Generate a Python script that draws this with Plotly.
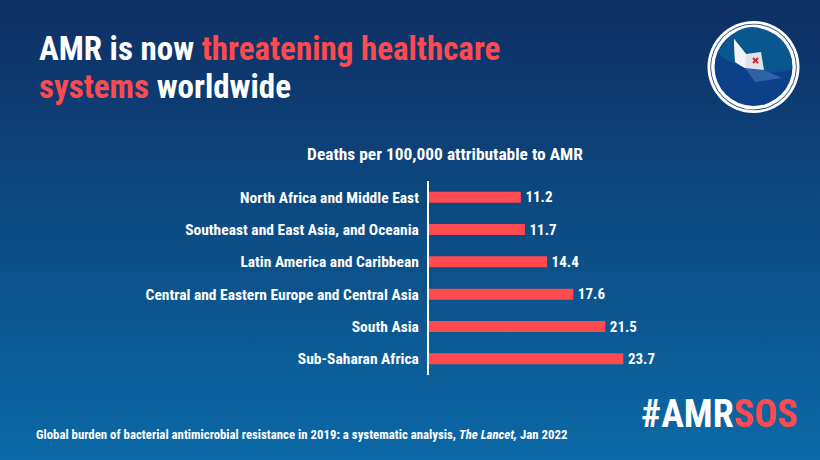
import plotly.graph_objects as go

regions = [
    "North Africa and Middle East",
    "Southeast and East Asia, and Oceania",
    "Latin America and Caribbean",
    "Central and Eastern Europe and Central Asia",
    "South Asia",
    "Sub-Saharan Africa",
]
deaths = [11.2, 11.7, 14.4, 17.6, 21.5, 23.7]

W, H = 820, 460
FONT = "Roboto"
RED = "#ff4b4f"


# shapes and annotations are placed in pixels of the 820x460 frame
def px(x):
    return x / W


def py(y):
    return 1 - y / H


def poly(points, color):
    path = "M " + " L ".join(f"{px(x)} {py(y)}" for x, y in points) + " Z"
    return dict(type="path", xref="paper", yref="paper", path=path,
                fillcolor=color, line_width=0, layer="above")


def circle(cx, cy, r, color):
    return dict(type="circle", xref="paper", yref="paper",
                x0=px(cx - r), x1=px(cx + r), y0=py(cy + r), y1=py(cy - r),
                fillcolor=color, line_width=0, layer="above")


def label(x, y, text, size, anchor="left"):
    return dict(x=px(x), y=py(y), xref="paper", yref="paper", text=text, showarrow=False,
                xanchor=anchor, yanchor="middle", align=anchor,
                font=dict(family=FONT, size=size, color="white", weight="bold"))


background = (
    "data:image/svg+xml;utf8,<svg xmlns='http://www.w3.org/2000/svg' width='820' height='460' "
    "preserveAspectRatio='none'><defs><linearGradient id='g' x1='0' y1='0' x2='0' y2='1'>"
    "<stop offset='0' stop-color='%230e2f63'/><stop offset='1' stop-color='%230b69a6'/>"
    "</linearGradient></defs><rect width='820' height='460' fill='url(%23g)'/></svg>"
)

fig = go.Figure(
    go.Bar(
        x=deaths,
        y=regions,
        orientation="h",
        width=0.34,
        marker=dict(color=RED, line_width=0),
        text=[f"{v:.1f}" for v in deaths],
        textposition="outside",
        cliponaxis=False,
        textfont=dict(family=FONT, size=15, color="white", weight="bold"),
    )
)

# logo
cx, cy = 753.5, 67
shapes = [
    circle(cx, cy, 46, "white"),
    circle(cx, cy, 43.2, "#123a78"),
    circle(cx, cy, 42.4, "white"),
    circle(cx, cy, 39, "#0b3f88"),
    dict(type="path", xref="paper", yref="paper", layer="above", line_width=0, fillcolor="#09578f",
         path=f"M {px(cx - 36)} {py(cy - 13)} Q {px(cx - 10)} {py(cy - 60)} {px(cx + 30)} {py(cy - 25)} "
              f"Q {px(cx + 42)} {py(cy - 8)} {px(cx + 37)} {py(cy + 3)} "
              f"Q {px(cx)} {py(cy + 12)} {px(cx - 36)} {py(cy - 13)} Z"),
    poly([(745, 68), (764, 70), (782, 78), (755, 82)], "#2f62a6"),
    poly([(734, 39), (746, 54), (761, 52), (764, 70), (745, 68), (735, 62)], "#dfe2e8"),
    poly([(734, 39), (746, 54), (745, 68), (735, 62)], "#f2f3f5"),
    dict(type="line", xref="paper", yref="paper", x0=px(753), y0=py(58), x1=px(758), y1=py(63),
         line=dict(color="#d8222c", width=2), layer="above"),
    dict(type="line", xref="paper", yref="paper", x0=px(758), y0=py(58), x1=px(753), y1=py(63),
         line=dict(color="#d8222c", width=2), layer="above"),
]

fig.update_layout(
    width=W,
    height=H,
    margin=dict(l=0, r=0, t=0, b=0),
    paper_bgcolor="#0c4c88",
    plot_bgcolor="rgba(0,0,0,0)",
    showlegend=False,
    images=[dict(source=background, xref="paper", yref="paper", x=0, y=1, sizex=1, sizey=1,
                 sizing="stretch", xanchor="left", yanchor="top", layer="below")],
    shapes=shapes,
    uniformtext=dict(minsize=15, mode="show"),
    xaxis=dict(domain=[px(429), px(675)], range=[0, 30], visible=False),
    yaxis=dict(
        domain=[py(375), py(181)],
        autorange="reversed",
        showgrid=False,
        showline=True,
        linecolor="white",
        linewidth=2,
        ticks="outside",
        ticklen=5,
        tickcolor="rgba(0,0,0,0)",
        tickfont=dict(family=FONT, size=15.5, color="white", weight="bold"),
    ),
    annotations=[
        label(37, 49, f"AMR is now <span style='color:{RED}'>threatening healthcare</span>", 33),
        label(37, 86, f"<span style='color:{RED}'>systems</span> worldwide", 33),
        label(444.5, 154, "Deaths per 100,000 attributable to AMR", 17.4, "center"),
        label(34, 434, "Global burden of bacterial antimicrobial resistance in 2019: a systematic analysis, "
                       "<i>The Lancet,</i> Jan 2022", 12.8),
        label(800, 414, f"#AMR<span style='color:{RED}'>SOS</span>", 38, "right"),
    ],
)

# the reference type is condensed, plotly has no font attribute for that
condense = """
document.body.style.margin = '0';
var st = document.createElement('style');
st.textContent = 'text { font-stretch: 75% !important; }';
document.head.appendChild(st);
"""
fig.write_html("out.html", post_script=condense, config={"displayModeBar": False})
